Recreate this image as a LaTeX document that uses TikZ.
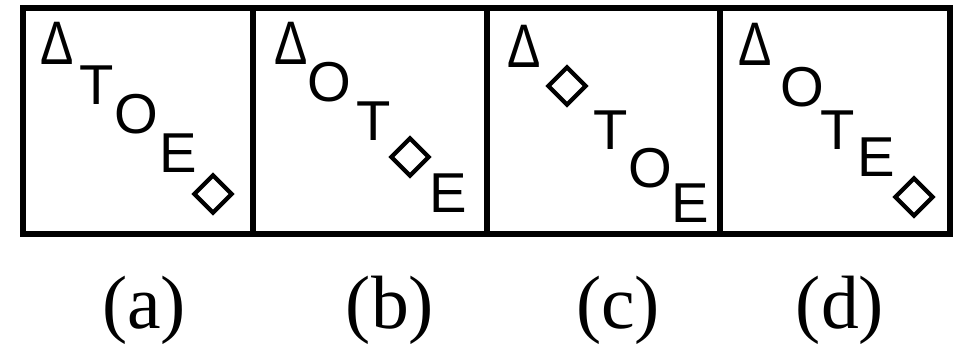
\documentclass[tikz,border=0pt]{standalone}
\usepackage{fontspec}
\setmainfont{Liberation Serif}
\newfontfamily\lettfont{Liberation Sans}
\usetikzlibrary{shapes.geometric}

\newcommand{\tridelta}{\scalebox{0.86}[1.06]{Δ}}

\tikzset{
 letter/.style={font=\lettfont\fontsize{32}{32}\selectfont,inner sep=0pt},
 tri/.style={font=\lettfont\fontsize{33}{33}\selectfont,inner sep=0pt},
 rhomb/.style={diamond,draw,line width=2.4pt,aspect=1,minimum size=0.78cm,inner sep=0pt},
 caption/.style={font=\fontsize{43}{43}\selectfont,inner sep=0pt},
 frame/.style={line width=3.5pt},
 divider/.style={line width=3pt}
}

\begin{document}
\begin{tikzpicture}[x=0.02cm,y=-0.02cm]
 \useasboundingbox (0,0) rectangle (955,351);
 \draw [frame] (23,8) rectangle (950,234);
 \draw [divider] (253,8) -- (253,234);
 \draw [divider] (487,8) -- (487,234);
 \draw [divider] (720,8) -- (720,234);
 % (a)
 \node [tri] (a1) at (57,43) {\tridelta};
 \node [letter] (a2) at (97,85) {T};
 \node [letter] (a3) at (136,114) {O};
 \node [letter] (a4) at (178,153) {E};
 \node [rhomb] (a5) at (213,194) {};
 % (b)
 \node [tri] (b1) at (291,43) {\tridelta};
 \node [letter] (b2) at (329,82) {O};
 \node [letter] (b3) at (374,121) {T};
 \node [rhomb] (b4) at (410,157) {};
 \node [letter] (b5) at (448,193) {E};
 % (c)
 \node [tri] (c1) at (524,46) {\tridelta};
 \node [rhomb] (c2) at (567,86) {};
 \node [letter] (c3) at (611,130) {T};
 \node [letter] (c4) at (650,168) {O};
 \node [letter] (c5) at (690,203) {E};
 % (d)
 \node [tri] (d1) at (755,44) {\tridelta};
 \node [letter] (d2) at (802,87) {O};
 \node [letter] (d3) at (838,130) {T};
 \node [letter] (d4) at (876,157) {E};
 \node [rhomb] (d5) at (914,197) {};
 % captions
 \node [caption] (capA) at (144,310) {(a)};
 \node [caption] (capB) at (390,310) {(b)};
 \node [caption] (capC) at (618,310) {(c)};
 \node [caption] (capD) at (840,310) {(d)};
\end{tikzpicture}
\end{document}
